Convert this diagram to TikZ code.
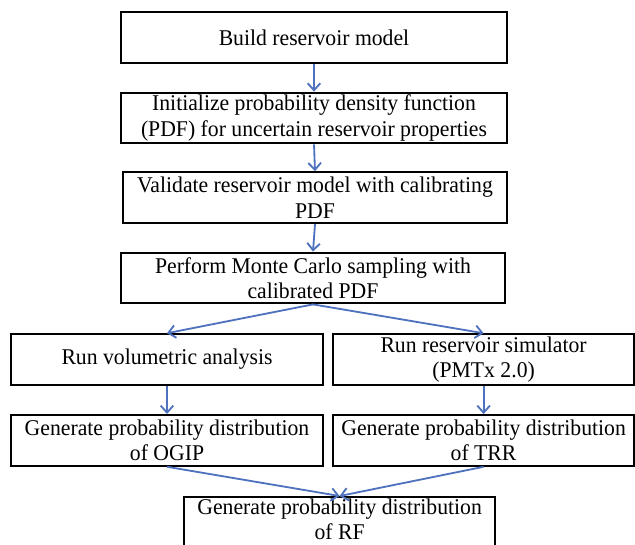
\documentclass[tikz,border=0pt]{standalone}
\usepackage{fontspec}
\setmainfont{Liberation Serif}[FakeStretch=0.965]
\usetikzlibrary{arrows.meta}
\definecolor{flowblue}{RGB}{79,114,190}

\begin{document}
\begin{tikzpicture}
    \useasboundingbox (0,0) rectangle (15.875,-13.625);
    \clip (0,0) rectangle (15.875,-13.625);

    \begin{scope}[
        every node/.style = {shape=rectangle, draw, line width=1.4pt, align=center,
            inner sep=0pt, minimum height=1.27cm, font=\fontsize{16}{18}\selectfont}]
        \node[minimum width=9.65cm] (B) at (7.85,-0.94) {Build reservoir model};
        \node[minimum width=9.65cm] (I) at (7.85,-2.95) {Initialize probability density function\\(PDF) for uncertain reservoir properties};
        \node[minimum width=9.6cm] (V) at (7.875,-4.94) {Validate reservoir model with calibrating\\PDF};
        \node[minimum width=9.6cm] (M) at (7.825,-6.95) {Perform Monte Carlo sampling with\\calibrated PDF};
        \node[minimum width=7.8cm] (A) at (4.175,-8.99) {Run volumetric analysis};
        \node[minimum width=7.525cm] (S) at (12.09,-8.99) {Run reservoir simulator\\(PMTx 2.0)};
        \node[minimum width=7.8cm] (O) at (4.175,-11.01) {Generate probability distribution\\of OGIP};
        \node[minimum width=7.525cm] (T) at (12.09,-11.01) {Generate probability distribution\\of TRR};
        % bottom edge runs off the page
        \node[minimum width=7.775cm, anchor=north, text height=30.5pt, text depth=14pt] (R) at (8.49,-12.4) {Generate probability distribution\\of RF};
    \end{scope}

    \begin{scope}[flowblue, line width=1.3pt, -{Straight Barb[length=5pt,width=9pt]}]
    \path (B.south) edge (I.north);
    \path (I.south) edge (V.north);
    \path (V.south) edge (M.north);
    \path (M.south) edge (A.north);
    \path (M.south) edge (S.north);
    \path (A.south) edge (O.north);
    \path (S.south) edge (T.north);
    \path (O.south) edge (R.north);
    \path (T.south) edge (R.north);
    \end{scope}

  \end{tikzpicture}
\end{document}
